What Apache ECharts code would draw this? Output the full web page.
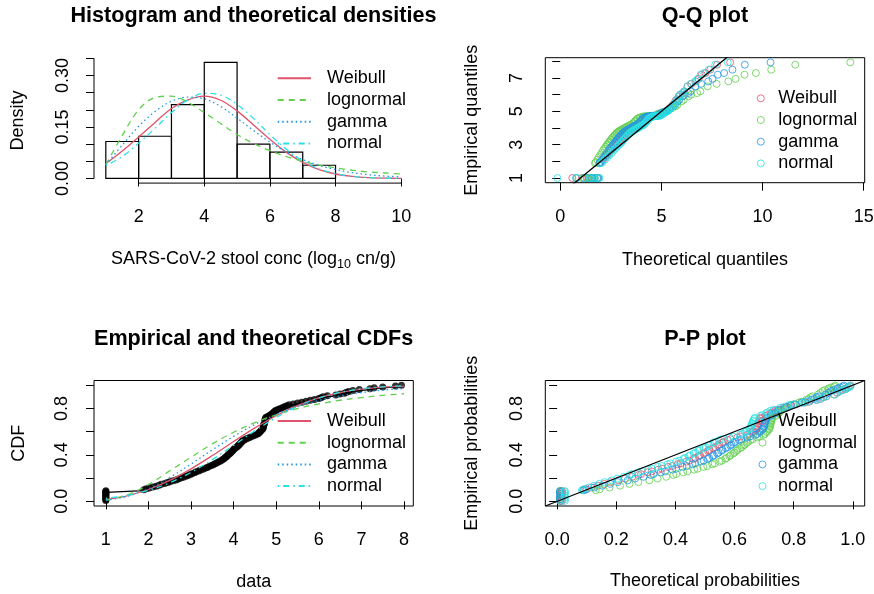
<!DOCTYPE html>
<html>
<head>
<meta charset="utf-8">
<script src="https://cdn.jsdelivr.net/npm/echarts@6.0.0/dist/echarts.min.js"></script>
<style>
  html, body { margin: 0; padding: 0; background: #fff; }
  #chart { width: 874px; height: 594px; }
</style>
</head>
<body>
<div id="chart"></div>
<script>
// ---------------- data ----------------
// SARS-CoV-2 stool concentrations (log10 cn/g), sorted, n = 130
const stoolConc = [
  1,1,1,1,1,1,1,1,1,1,1,1,
  1.89,1.95,
  2.02,2.10,2.18,2.25,2.30,2.38,2.45,2.50,2.58,2.65,2.70,2.76,2.82,2.88,2.93,2.98,
  3.02,3.08,3.12,3.18,3.22,3.28,3.33,3.38,3.42,3.48,3.52,3.56,3.60,3.64,3.68,3.72,
  3.75,3.78,3.80,3.83,3.85,3.87,3.90,3.92,3.94,3.96,3.98,4.00,
  4.02,4.05,4.08,4.10,4.12,4.14,4.16,4.18,4.20,4.22,
  4.26,4.30,4.35,4.40,4.45,4.50,4.55,
  4.58,4.60,4.62,4.64,4.66,4.68,
  4.69,4.70,4.70,4.71,4.71,4.72,4.72,4.73,4.73,4.74,4.74,4.75,4.76,
  4.80,4.84,4.87,4.90,4.93,4.95,4.97,5.00,
  5.05,5.10,5.15,5.20,5.25,5.30,5.40,5.50,5.60,5.70,5.80,5.90,6.00,
  6.05,6.10,6.20,6.40,6.50,6.60,6.65,6.70,6.80,6.95,
  7.20,7.30,7.50,7.80,7.94
];

// histogram (density scale)
const binEdges = [1, 2, 3, 4, 5, 6, 7, 8];
const binDensity = [0.1077, 0.1231, 0.2154, 0.3385, 0.1000, 0.0769, 0.0385];

// fitted densities
const densX = [1,1.5,2,2.5,3,3.5,4,4.5,5,5.5,6,6.5,7,7.5,8,8.5,9,9.5,10];
const pdfWeibull   = [0.043,0.080,0.121,0.163,0.204,0.229,0.240,0.228,0.197,0.156,0.114,0.076,0.047,0.026,0.013,0.006,0.0025,0.001,0.0003];
const pdfLognormal = [0.040,0.125,0.200,0.236,0.240,0.222,0.192,0.160,0.128,0.102,0.081,0.064,0.050,0.039,0.031,0.024,0.019,0.016,0.013];
const pdfGamma     = [0.040,0.097,0.152,0.195,0.225,0.237,0.232,0.210,0.176,0.140,0.106,0.077,0.055,0.038,0.026,0.017,0.011,0.007,0.005];
const pdfNormal    = [0.038,0.064,0.103,0.146,0.192,0.229,0.248,0.243,0.216,0.175,0.128,0.085,0.051,0.028,0.014,0.006,0.0025,0.0009,0.0003];

// fitted CDFs
const cdfX = [1,1.5,2,2.5,3,3.5,4,4.5,5,5.5,6,6.5,7,7.5,8];
const cdfWeibull   = [0.016,0.048,0.102,0.180,0.280,0.394,0.515,0.632,0.737,0.824,0.890,0.936,0.966,0.983,0.992];
const cdfLognormal = [0.010,0.055,0.145,0.262,0.380,0.495,0.595,0.678,0.745,0.799,0.838,0.870,0.893,0.912,0.926];
const cdfGamma     = [0.010,0.043,0.108,0.205,0.321,0.443,0.559,0.662,0.748,0.816,0.869,0.908,0.936,0.957,0.971];
const cdfNormal    = [0.026,0.052,0.095,0.160,0.249,0.359,0.482,0.607,0.722,0.817,0.889,0.938,0.968,0.985,0.994];

// ranks (1-based) of the sorted sample shown in the Q-Q and P-P plots
const sampleRanks = [1,3,5,7,9,11,12,13,14,16,18,20,22,24,26,28,30,33,36,39,42,45,48,51,54,57,
  60,63,66,69,72,75,78,81,84,87,90,93,96,99,102,105,108,111,114,117,120,122,124,125,126,127,128,129,130];
const sampleRanksMid = [31,34,37,40,43,46,49,52,55,58,61,64,67,70,73,76,79,82,85,88,91,94,97,100,103,106,109,112,115,118];

// theoretical quantiles at those ranks
const qqWeibull = [0.596,1.074,1.333,1.528,1.690,1.830,1.895,
  1.956,2.015,2.125,2.228,2.324,2.416,2.504,2.588,2.669,2.747,2.861,2.970,3.076,3.179,3.280,3.379,3.476,3.573,3.669,3.764,
  3.859,3.955,4.050,4.147,4.244,4.343,4.443,4.545,4.651,4.759,4.870,4.987,5.109,5.237,5.373,5.520,5.680,5.857,6.057,6.294,
  6.481,6.706,6.840,6.994,7.181,7.416,7.751,8.398];
const qqLognormal = [0.828,1.138,1.303,1.429,1.535,1.629,1.673,
  1.715,1.756,1.834,1.907,1.979,2.047,2.114,2.179,2.245,2.308,2.402,2.494,2.586,2.679,2.773,2.866,2.960,3.056,3.154,3.255,
  3.358,3.463,3.572,3.685,3.803,3.925,4.053,4.188,4.329,4.481,4.643,4.817,5.006,5.215,5.445,5.701,5.997,6.343,6.761,7.286,
  7.732,8.307,8.666,9.108,9.670,10.428,11.617,14.338];
const qqGamma = [0.783,1.200,1.414,1.573,1.706,1.820,1.874,
  1.924,1.973,2.064,2.151,2.233,2.310,2.386,2.459,2.531,2.600,2.702,2.799,2.896,2.993,3.087,3.181,3.275,3.369,3.464,3.561,
  3.657,3.756,3.856,3.958,4.064,4.172,4.282,4.399,4.518,4.644,4.776,4.915,5.064,5.227,5.401,5.591,5.805,6.049,6.333,6.680,
  6.962,7.315,7.529,7.784,8.101,8.511,9.123,10.396];
const qqNormal = [-0.141,0.799,1.199,1.471,1.683,1.858,1.937,
  2.010,2.079,2.207,2.324,2.433,2.533,2.627,2.718,2.804,2.887,3.005,3.116,3.223,3.327,3.429,3.526,3.621,3.716,3.809,3.903,
  3.994,4.085,4.177,4.269,4.361,4.455,4.550,4.647,4.745,4.846,4.951,5.060,5.173,5.295,5.422,5.558,5.707,5.873,6.061,6.282,
  6.457,6.669,6.794,6.941,7.118,7.341,7.660,8.281];
const qqWeibullMid = [2.786,2.898,3.006,3.110,3.213,3.313,3.412,3.509,3.605,3.700,3.796,3.891,3.986,4.082,4.179,
  4.277,4.376,4.477,4.580,4.686,4.796,4.909,5.027,5.150,5.281,5.421,5.571,5.737,5.921,6.132];
const qqLognormalMid = [2.339,2.432,2.525,2.618,2.711,2.804,2.897,2.992,3.089,3.188,3.289,3.392,3.499,3.609,3.723,
  3.843,3.968,4.097,4.233,4.378,4.533,4.701,4.881,5.075,5.289,5.526,5.798,6.107,6.474,6.922];
const qqGammaMid = [2.633,2.733,2.831,2.930,3.024,3.119,3.212,3.307,3.401,3.497,3.592,3.690,3.789,3.891,3.993,
  4.099,4.209,4.322,4.437,4.560,4.686,4.824,4.966,5.119,5.282,5.462,5.662,5.883,6.139,6.441];
const qqNormalMid = [2.926,3.041,3.152,3.259,3.362,3.462,3.558,3.653,3.748,3.841,3.933,4.024,4.116,4.207,4.299,
  4.392,4.487,4.582,4.678,4.778,4.881,4.988,5.099,5.214,5.336,5.465,5.607,5.761,5.933,6.130];

// theoretical probabilities at the same observations
const ppWeibull = [0.016,0.016,0.016,0.016,0.016,0.016,0.016,
  0.0879,0.0954,0.1157,0.1382,0.1593,0.1801,0.2079,0.2295,0.2541,0.2752,0.3060,0.3423,0.3751,0.4084,0.4373,0.4615,0.4785,0.4955,0.5100,0.5269,
  0.5437,0.5580,0.5768,0.6094,0.6433,0.6587,0.6717,0.6760,0.6803,0.6824,0.6866,0.7054,0.7235,0.7371,0.7653,0.7916,0.8388,0.8784,0.9006,0.9360,
  0.9464,0.9555,0.9633,0.9738,0.9772,0.9830,0.9893,0.9915];
const ppLognormal = [0.0104,0.0104,0.0104,0.0104,0.0104,0.0104,0.0104,
  0.1309,0.1437,0.1774,0.2129,0.2447,0.2745,0.3119,0.3392,0.3688,0.3931,0.4265,0.4633,0.4945,0.5244,0.5490,0.5688,0.5823,0.5953,0.6063,0.6188,
  0.6310,0.6411,0.6542,0.6762,0.6984,0.7083,0.7165,0.7192,0.7219,0.7232,0.7258,0.7374,0.7485,0.7568,0.7738,0.7896,0.8180,0.8427,0.8572,0.8823,
  0.8905,0.8981,0.9052,0.9159,0.9198,0.9270,0.9367,0.9407];
const ppGamma = [0.0098,0.0098,0.0098,0.0098,0.0098,0.0098,0.0098,
  0.0909,0.1001,0.1255,0.1534,0.1796,0.2050,0.2385,0.2637,0.2922,0.3163,0.3501,0.3894,0.4235,0.4574,0.4860,0.5092,0.5255,0.5414,0.5549,0.5702,
  0.5853,0.5979,0.6145,0.6428,0.6715,0.6840,0.6946,0.6982,0.7019,0.7037,0.7071,0.7221,0.7368,0.7476,0.7700,0.7907,0.8279,0.8593,0.8776,0.9079,
  0.9175,0.9262,0.9338,0.9453,0.9494,0.9567,0.9658,0.9694];
const ppNormal = [0.026,0.026,0.026,0.026,0.026,0.026,0.026,
  0.0838,0.0898,0.1062,0.1247,0.1423,0.1602,0.1844,0.2036,0.2257,0.2451,0.2739,0.3085,0.3405,0.3734,0.4025,0.4270,0.4447,0.4622,0.4773,0.4949,
  0.5127,0.5279,0.5478,0.5828,0.6194,0.6361,0.6502,0.6550,0.6595,0.6620,0.6664,0.6869,0.7068,0.7220,0.7530,0.7818,0.8335,0.8766,0.9006,0.9380,
  0.9488,0.9580,0.9658,0.9762,0.9795,0.9850,0.9909,0.9928];
const ppWeibullMid = [0.2839,0.3195,0.3540,0.3894,0.4181,0.4470,0.4665,0.4835,0.5004,0.5149,0.5341,0.5485,0.5627,0.5862,0.6208,
  0.6500,0.6631,0.6739,0.6781,0.6803,0.6845,0.6887,0.7114,0.7274,0.7467,0.7742,0.8082,0.8528,0.8899,0.9106];
const ppLognormalMid = [0.4028,0.4405,0.4746,0.5075,0.5327,0.5570,0.5727,0.5860,0.5991,0.6099,0.6240,0.6343,0.6444,0.6606,0.6838,
  0.7027,0.7110,0.7178,0.7206,0.7219,0.7245,0.7271,0.7412,0.7509,0.7626,0.7792,0.7995,0.8267,0.8501,0.8639];
const ppGammaMid = [0.3260,0.3650,0.4017,0.4384,0.4671,0.4955,0.5139,0.5302,0.5459,0.5592,0.5766,0.5895,0.6022,0.6228,0.6524,
  0.6767,0.6877,0.6964,0.7001,0.7019,0.7053,0.7087,0.7271,0.7399,0.7553,0.7771,0.8037,0.8391,0.8687,0.8858];
const ppNormalMid = [0.2530,0.2867,0.3199,0.3546,0.3832,0.4124,0.4321,0.4496,0.4672,0.4823,0.5025,0.5177,0.5328,0.5579,0.5950,
  0.6266,0.6409,0.6526,0.6573,0.6596,0.6643,0.6688,0.6937,0.7112,0.7325,0.7628,0.8000,0.8489,0.8891,0.9112];

// axis ranges, ticks and labelled ticks
const densXRange = [0.64, 10.36], densYRange = [-0.0135, 0.352];
const densXTicks = [2, 4, 6, 8, 10];
const densYTicks = [0, 0.05, 0.10, 0.15, 0.20, 0.25, 0.30, 0.35];
const densYLabels = [0, 0.15, 0.30];

const qqXRange = [-0.74, 15.05], qqYRange = [0.72, 8.22];
const qqXTicks = [0, 5, 10, 15];
const qqYTicks = [1, 2, 3, 4, 5, 6, 7, 8];
const qqYLabels = [1, 3, 5, 7];

const cdfXRange = [0.722, 8.218], probRange = [-0.04, 1.04];
const cdfXTicks = [1, 2, 3, 4, 5, 6, 7, 8];
const probTicks = [0, 0.2, 0.4, 0.6, 0.8, 1.0];
const probYLabels = [0, 0.4, 0.8];

// ---------------- styling ----------------
const FONT = '"Liberation Sans", Arial, Helvetica, sans-serif';
const FS = 18;
const DISTS = [
  { key: 'Weibull',   color: '#DF536B', dash: 'solid' },
  { key: 'lognormal', color: '#61D04F', dash: [6, 5] },
  { key: 'gamma',     color: '#2297E6', dash: [1.5, 3] },
  { key: 'normal',    color: '#28E2E5', dash: [1.5, 4, 6, 4] }
];
const pdfData = { Weibull: pdfWeibull, lognormal: pdfLognormal, gamma: pdfGamma, normal: pdfNormal };
const cdfData = { Weibull: cdfWeibull, lognormal: cdfLognormal, gamma: cdfGamma, normal: cdfNormal };
const qqData  = { Weibull: qqWeibull.concat(qqWeibullMid), lognormal: qqLognormal.concat(qqLognormalMid),
                  gamma: qqGamma.concat(qqGammaMid), normal: qqNormal.concat(qqNormalMid) };
const ppData  = { Weibull: ppWeibull.concat(ppWeibullMid), lognormal: ppLognormal.concat(ppLognormalMid),
                  gamma: ppGamma.concat(ppGammaMid), normal: ppNormal.concat(ppNormalMid) };
const allRanks = sampleRanks.concat(sampleRanksMid);
const n = stoolConc.length;

const grids = [
  { left: 94,    top: 57.7,  width: 319,   height: 125.4 },
  { left: 545.3, top: 57.7,  width: 319.4, height: 125 },
  { left: 94,    top: 380.5, width: 319.3, height: 125.5 },
  { left: 545.3, top: 380.5, width: 319.4, height: 125.5 }
].map((g, i) => Object.assign(g, {
  show: i > 0, borderColor: '#000', borderWidth: 1, backgroundColor: 'transparent',
  containLabel: false, outerBoundsMode: 'none'
}));

function axis(gi, range, ticks, labels, fmt, name, nameGap, isY, labelMargin, extra) {
  return Object.assign({
    type: 'value', gridIndex: gi, min: range[0], max: range[1],
    axisLine: { show: false },
    splitLine: { show: false },
    axisTick: { show: true, customValues: ticks, length: 8, lineStyle: { color: '#000', width: 1 } },
    axisLabel: {
      show: true, customValues: labels, formatter: fmt, color: '#000',
      fontSize: FS, lineHeight: 18, fontFamily: FONT, margin: labelMargin,
      rotate: isY ? 90 : 0, hideOverlap: false
    },
    name: name, nameLocation: 'middle', nameGap: nameGap, nameRotate: isY ? 90 : 0,
    nameTextStyle: { color: '#000', fontSize: FS, fontFamily: FONT, lineHeight: 22 }
  }, extra || {});
}
const fix = d => v => v.toFixed(d);

const xAxes = [
  axis(0, densXRange, densXTicks, densXTicks, fix(0),
    'SARS-CoV-2 stool conc (log{sub|10} cn/g)', 64, false, 25,
    { nameTextStyle: { color: '#000', fontSize: FS, fontFamily: FONT, lineHeight: 24,
      rich: { sub: { fontSize: 12.5, fontFamily: FONT, color: '#000', verticalAlign: 'bottom', lineHeight: 13 } } } }),
  axis(1, qqXRange, qqXTicks, qqXTicks, fix(0), 'Theoretical quantiles', 66, false, 25),
  axis(2, cdfXRange, cdfXTicks, cdfXTicks, fix(0), 'data', 65, false, 25),
  axis(3, probRange, probTicks, probTicks, fix(1), 'Theoretical probabilities', 64, false, 25)
];
const yAxes = [
  axis(0, densYRange, densYTicks, densYLabels, fix(2), 'Density', 64.7, true, 21.7),
  axis(1, qqYRange, qqYTicks, qqYLabels, fix(0), 'Empirical quantiles', 62.3, true, 19.3),
  axis(2, probRange, probTicks, probYLabels, fix(1), 'CDF', 64, true, 23.3),
  axis(3, probRange, probTicks, probYLabels, fix(1), 'Empirical probabilities', 62.3, true, 19.3)
];

const series = [];

// panel 1: histogram bars
series.push({
  type: 'custom', name: 'histogram', xAxisIndex: 0, yAxisIndex: 0, silent: true,
  data: binDensity.map((d, i) => [binEdges[i], binEdges[i + 1], d]),
  encode: { x: [0, 1], y: 2 },
  renderItem: (params, api) => {
    const a = api.coord([api.value(0), api.value(2)]);
    const b = api.coord([api.value(1), 0]);
    return { type: 'rect', shape: { x: a[0], y: a[1], width: b[0] - a[0], height: b[1] - a[1] },
      style: { fill: 'none', stroke: '#000', lineWidth: 1.2 } };
  }
});
// panel 1: axis lines spanning the tick range only
series.push({
  type: 'line', name: 'xaxis-line', xAxisIndex: 0, yAxisIndex: 0, silent: true, clip: false,
  symbol: 'none', lineStyle: { color: '#000', width: 1 },
  data: [[densXTicks[0], densYRange[0]], [densXTicks[densXTicks.length - 1], densYRange[0]]]
});
series.push({
  type: 'line', name: 'yaxis-line', xAxisIndex: 0, yAxisIndex: 0, silent: true, clip: false,
  symbol: 'none', lineStyle: { color: '#000', width: 1 },
  data: [[densXRange[0], densYTicks[0]], [densXRange[0], densYTicks[densYTicks.length - 1]]]
});
// panel 1: fitted densities
DISTS.forEach(d => series.push({
  type: 'line', name: d.key + '|pdf', xAxisIndex: 0, yAxisIndex: 0, symbol: 'none', smooth: 0.35,
  lineStyle: { color: d.color, width: 1.3, type: d.dash }, itemStyle: { color: d.color },
  data: densX.map((x, i) => [x, pdfData[d.key][i]])
}));

// panel 2: Q-Q points
DISTS.forEach(d => series.push({
  type: 'scatter', name: d.key + '|qq', xAxisIndex: 1, yAxisIndex: 1, symbol: 'circle', symbolSize: 7,
  itemStyle: { color: 'transparent', borderColor: d.color, borderWidth: 1 },
  data: allRanks.map((r, j) => [qqData[d.key][j], stoolConc[r - 1]])
}));
series.push({
  type: 'line', name: 'qq-identity', xAxisIndex: 1, yAxisIndex: 1, symbol: 'none', silent: true, z: 5,
  lineStyle: { color: '#000', width: 1.3 },
  data: [[qqXRange[0], qqXRange[0]], [qqXRange[1], qqXRange[1]]]
});

// panel 3: empirical CDF (steps + points) then fitted CDFs
const ecdf = stoolConc.map((v, i) => [v, (i + 1) / n]);
series.push({
  type: 'line', name: 'ecdf-steps', xAxisIndex: 2, yAxisIndex: 2, step: 'end', symbol: 'none', silent: true,
  lineStyle: { color: '#000', width: 1.3 }, data: ecdf
});
series.push({
  type: 'scatter', name: 'ecdf-points', xAxisIndex: 2, yAxisIndex: 2, symbol: 'circle', symbolSize: 7, silent: true,
  itemStyle: { color: '#000' }, data: ecdf
});
DISTS.forEach(d => series.push({
  type: 'line', name: d.key + '|cdf', xAxisIndex: 2, yAxisIndex: 2, symbol: 'none', smooth: 0.35, z: 4,
  lineStyle: { color: d.color, width: 1.3, type: d.dash }, itemStyle: { color: d.color },
  data: cdfX.map((x, i) => [x, cdfData[d.key][i]])
}));

// panel 4: P-P points
DISTS.forEach(d => series.push({
  type: 'scatter', name: d.key + '|pp', xAxisIndex: 3, yAxisIndex: 3, symbol: 'circle', symbolSize: 7,
  itemStyle: { color: 'transparent', borderColor: d.color, borderWidth: 1 },
  data: allRanks.map((r, j) => [ppData[d.key][j], (r - 0.5) / n])
}));
series.push({
  type: 'line', name: 'pp-identity', xAxisIndex: 3, yAxisIndex: 3, symbol: 'none', silent: true, z: 5,
  lineStyle: { color: '#000', width: 1.3 },
  data: [[probRange[0], probRange[0]], [probRange[1], probRange[1]]]
});

// legends
function legend(suffix, left, top, isLine, padLeft) {
  const lg = {
    orient: 'vertical', left: left, top: top, padding: 0, selectedMode: false,
    itemWidth: isLine ? 33.3 : 7, itemHeight: isLine ? 14 : 7, itemGap: 1.7,
    data: DISTS.map(d => d.key + '|' + suffix),
    formatter: nm => nm.split('|')[0],
    textStyle: { color: '#000', fontSize: FS, fontFamily: FONT, lineHeight: 20, padding: [0, 0, 0, padLeft] }
  };
  if (isLine) {
    lg.itemStyle = { opacity: 0 };
  } else {
    lg.icon = 'circle';
    lg.itemStyle = { color: 'transparent', borderWidth: 1 };
  }
  return lg;
}
const legends = [
  legend('pdf', 276.7, 68.3, true, 11),
  legend('qq', 756.8, 88.3, false, 9),
  legend('cdf', 276.7, 411, true, 11),
  legend('pp', 758.5, 411, false, 7)
];

// titles
function title(text, cx, top) {
  return { text: text, left: cx, top: top, textAlign: 'center', padding: 0,
    textStyle: { color: '#000', fontSize: 21.6, fontWeight: 'bold', fontFamily: FONT, lineHeight: 26 } };
}
const titles = [
  title('Histogram and theoretical densities', 253.5, 3.5),
  title('Q-Q plot', 705, 3.5),
  title('Empirical and theoretical CDFs', 253.6, 326.3),
  title('P-P plot', 705, 326.3)
];

const chart = echarts.init(document.getElementById('chart'), null, { renderer: 'canvas' });
chart.setOption({
  animation: false,
  backgroundColor: '#fff',
  textStyle: { fontFamily: FONT, color: '#000' },
  title: titles,
  legend: legends,
  grid: grids,
  xAxis: xAxes,
  yAxis: yAxes,
  series: series
});
</script>
</body>
</html>
